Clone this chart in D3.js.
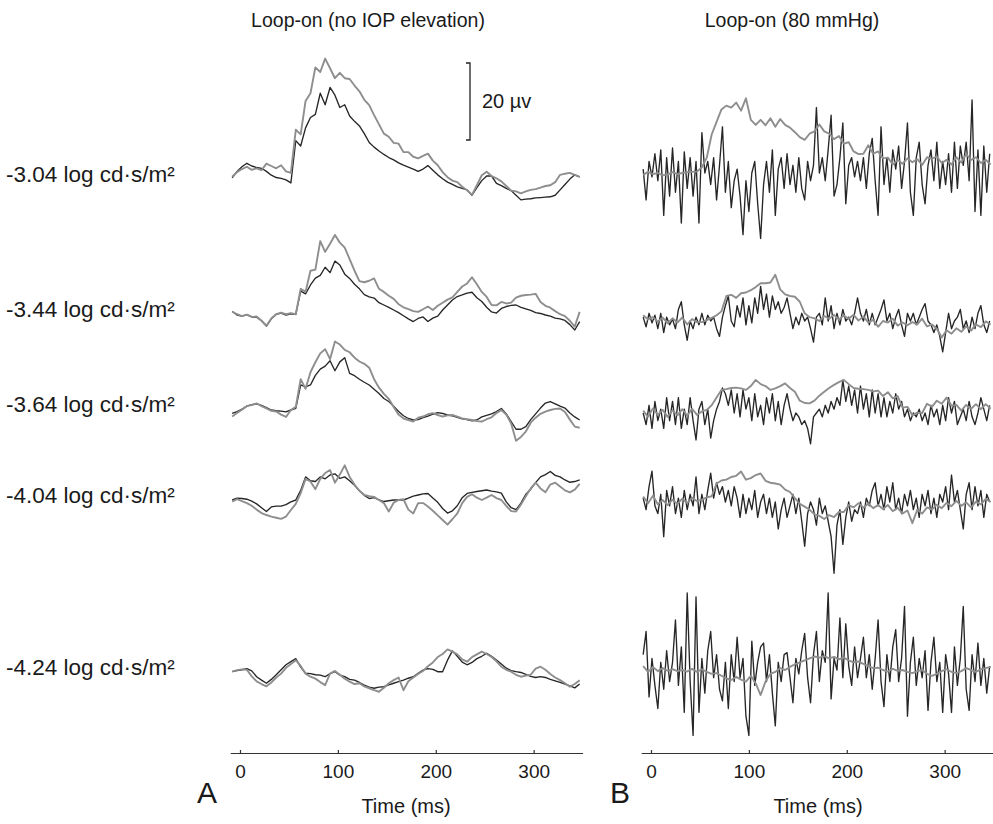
<!DOCTYPE html>
<html><head><meta charset="utf-8">
<script src="https://cdn.jsdelivr.net/npm/d3@7"></script>
<style>
body{margin:0;background:#fff}
svg{display:block}
text{font-family:"Liberation Sans", Arial, Helvetica, sans-serif; fill:#1a1a1a}
</style>
</head><body>
<svg id="chart" width="993" height="824"></svg>
<script>
// ---------------- DATA ----------------
const intensities = ["-3.04", "-3.44", "-3.64", "-4.04", "-4.24"];
const panelTitles = ["Loop-on (no IOP elevation)", "Loop-on (80 mmHg)"];
const panelLetters = ["A", "B"];
const timeTicks = [0, 100, 200, 300];
const scaleBarUv = 20;
const sampleStart = -8;      // ms, first sample
const smoothStep = 5;        // ms between samples (panel A traces, panel B grey traces)
const noisyStep = 3;         // ms between samples (panel B black traces)

// Panel A: no IOP elevation (µV)
const a304Gray = [-0.2,1.0,1.8,2.4,1.6,2.0,1.5,3.2,2.6,2.0,2.8,1.2,
  0.8,12.0,10.8,19.5,21.5,28.2,27.0,30.5,28.0,25.4,26.8,25.4,
  25.2,23.5,22.0,19.8,18.4,15.8,13.4,11.0,10.2,8.6,8.4,6.2,
  6.2,5.0,4.6,5.2,5.8,4.0,2.8,1.0,-0.3,-1.2,-1.6,-2.8,
  -3.7,-4.9,-2.4,0.2,1.1,0.0,-0.6,-1.4,-2.6,-3.8,-4.0,-4.5,
  -4.0,-3.6,-3.4,-3.0,-2.6,-2.4,-1.6,0.3,0.6,0.8,0.3,-0.2];
const a304Black = [-0.5,1.2,2.4,3.3,2.6,2.2,2.0,1.2,0.2,-0.4,-0.6,-1.0,
  -1.8,9.2,7.8,12.5,15.2,16.0,21.5,18.5,23.0,21.0,17.8,18.5,
  15.6,14.2,13.0,11.0,8.7,7.5,6.5,5.6,4.8,4.2,3.4,2.8,
  2.3,1.8,1.2,1.8,2.7,1.5,0.3,-0.7,-1.6,-2.2,-2.8,-3.2,
  -3.6,-5.0,-3.0,-1.2,0.0,0.0,-1.9,-2.5,-3.2,-3.8,-5.0,-6.2,
  -6.0,-5.9,-5.7,-5.6,-5.5,-5.4,-5.0,-3.6,-2.2,-0.8,0.3,-0.2];
const a344Gray = [0.9,0.2,-0.3,0.1,-0.5,-0.4,-1.5,-2.8,-0.9,0.2,0.6,0.2,
  0.5,0.2,6.8,6.0,11.5,11.8,19.2,16.4,18.5,20.8,18.8,17.5,
  14.5,11.5,8.8,8.5,8.9,9.5,6.8,6.0,5.0,4.2,2.8,2.0,
  1.5,1.0,0.8,1.5,2.2,1.3,2.4,3.2,4.0,4.6,6.0,7.4,
  8.2,9.8,8.0,6.0,4.7,2.6,2.5,3.4,3.0,3.2,4.5,5.0,
  5.2,5.3,5.5,3.4,2.4,1.9,1.0,0.2,-0.3,-1.5,-3.0,0.8];
const a344Black = [0.9,0.0,-0.3,0.1,-0.5,-0.6,-1.5,-2.9,-1.0,0.2,0.5,0.0,
  0.3,0.2,6.2,5.5,7.8,9.6,10.3,12.4,11.0,14.0,13.0,10.6,
  9.5,8.0,6.8,5.3,4.7,4.4,3.2,2.6,2.0,1.3,0.6,-0.2,
  -1.0,-1.7,-0.9,-0.5,-1.7,-0.8,-0.3,1.3,2.6,3.9,4.8,5.2,
  5.7,5.9,4.5,3.5,2.0,0.8,0.5,1.7,2.2,2.5,2.6,2.0,
  1.6,1.2,0.6,0.4,0.0,-0.3,-0.8,-1.0,-1.4,-2.5,-3.9,-1.7];
const a364Gray = [-1.7,-0.8,0.1,1.0,1.3,1.7,1.0,0.4,-0.2,-0.4,-1.2,-1.8,
  0.0,0.8,8.0,5.5,9.8,12.4,14.7,15.8,13.2,17.8,17.0,15.6,
  15.0,13.6,12.6,12.0,11.0,8.0,5.8,4.2,2.9,0.8,-1.2,-2.2,
  -2.6,-3.0,-2.0,-1.7,-1.1,-0.8,-1.3,-1.7,-1.4,-1.3,-1.7,-2.2,
  -2.4,-2.6,-2.9,-3.0,-2.4,-1.9,-0.8,0.0,-1.2,-3.5,-8.0,-7.0,
  -5.6,-3.3,-2.0,-1.0,-0.4,0.0,0.3,0.4,-0.5,-2.5,-4.3,-4.6];
const a364Black = [-0.9,-0.4,0.2,1.0,1.4,1.6,1.2,0.6,0.0,-0.2,-0.3,-0.5,
  0.0,0.4,6.5,6.0,6.5,9.0,10.6,11.4,12.8,10.2,12.5,13.6,
  9.5,8.9,8.0,7.2,6.5,5.4,4.3,3.0,2.2,1.0,-0.4,-1.5,
  -2.2,-2.6,-2.5,-2.0,-1.6,-1.1,-0.7,-0.9,-1.3,-1.5,-1.9,-2.3,
  -2.5,-2.8,-2.6,-1.8,-1.4,-1.0,-0.4,0.4,-1.0,-3.0,-5.0,-5.0,
  -4.3,-2.5,-1.0,0.5,1.8,2.2,1.6,1.0,0.5,-0.8,-1.8,-2.6];
const a404Gray = [-0.4,0.2,-0.3,-0.8,-1.5,-2.5,-3.4,-3.9,-4.3,-4.6,-4.9,-4.3,
  -2.6,-1.0,1.8,5.5,4.8,2.8,5.5,7.0,7.8,4.5,6.6,9.0,
  6.0,4.0,2.4,1.3,1.0,0.8,0.0,-0.8,-3.0,-0.7,0.0,0.2,
  -2.5,-3.5,-0.8,-0.8,-1.7,-2.8,-4.0,-5.2,-6.4,-5.0,-3.5,-0.8,
  0.8,1.5,0.6,0.0,0.6,1.3,0.5,0.0,-1.5,-2.9,-3.0,-1.2,
  1.0,3.0,4.5,3.0,2.0,4.0,4.5,3.5,2.5,2.0,2.7,4.2];
const a404Black = [0.0,0.5,0.4,0.2,-0.3,-1.0,-2.0,-3.0,-1.8,-1.6,-1.6,-1.2,
  -0.5,0.0,2.5,6.0,5.0,4.8,6.0,5.5,6.5,6.8,5.6,6.0,
  5.0,3.8,2.4,1.2,0.4,0.6,0.0,-0.4,-0.2,0.0,0.0,0.0,
  0.5,1.0,1.3,1.6,1.7,0.5,-0.6,-2.2,-3.4,-2.8,-1.5,0.6,
  1.7,2.0,2.2,2.4,2.6,2.3,2.1,1.8,-0.5,-2.0,-2.5,-0.8,
  1.5,2.8,4.5,6.0,6.6,7.4,6.4,6.0,5.2,4.6,4.8,5.2];
const a424Gray = [0.0,0.4,0.6,0.5,-1.2,-2.5,-3.2,-3.8,-2.8,-1.5,-0.5,1.0,
  2.0,3.0,1.5,-0.5,-1.3,-1.8,-2.7,-3.5,-0.5,0.2,-0.8,-1.8,
  -2.6,-3.2,-3.0,-3.8,-4.3,-4.8,-5.2,-4.2,-3.0,-2.2,-1.5,-4.8,
  -2.5,-1.5,-0.6,0.2,1.4,2.4,3.8,4.6,5.8,5.2,4.5,3.2,
  2.6,3.8,4.5,5.2,4.6,3.8,2.7,1.3,0.5,0.0,-0.8,-1.3,
  -1.0,-0.8,0.8,1.3,0.5,-0.6,-1.5,-2.2,-3.0,-3.9,-3.2,-2.2];
const a424Black = [0.0,0.3,0.5,0.8,0.2,-1.3,-2.2,-3.0,-2.0,-0.8,0.5,1.8,
  2.6,3.4,1.2,-0.4,-0.5,-0.8,-0.9,-1.3,-0.5,0.0,-0.9,-1.3,
  -2.0,-2.2,-2.8,-3.5,-4.0,-4.3,-4.0,-3.9,-3.4,-3.0,-2.6,-2.2,
  -1.7,-1.3,-0.4,0.4,0.8,0.6,0.0,0.0,3.0,5.4,4.0,2.5,
  1.8,2.4,3.4,4.0,4.8,4.0,3.0,2.0,0.9,0.3,0.0,-0.2,
  -0.7,-1.2,-1.5,-1.3,-1.5,-2.0,-2.4,-2.8,-3.2,-3.7,-4.2,-3.2];

// Panel B: 80 mmHg (µV)
const b304Gray = [-0.5,0.3,-0.3,0.0,-0.6,-0.4,0.2,-0.3,0.0,0.2,0.3,0.4,
  1.5,4.0,10.0,13.3,16.5,17.5,17.0,18.3,16.2,19.4,13.8,12.5,
  13.8,12.4,14.2,12.0,14.0,12.5,11.8,10.6,9.3,8.6,10.2,10.8,
  12.6,10.8,10.2,8.8,9.6,7.6,8.0,5.6,4.9,5.0,7.2,5.0,
  5.6,3.8,4.0,2.2,3.4,2.4,3.8,2.8,3.6,2.1,4.1,3.7,
  4.3,2.6,3.4,2.2,4.1,2.7,4.9,3.4,4.1,2.6,3.4,2.2];
const b304Black = [1,-7,3,-1,5,-2,6,-11,4,-6,
  6.5,-5,3,-13,5.5,-4,4,-6,3,-13,
  10.5,0,3,-3,4,-7,2,12,-5,3,
  -9,-2,1,-6,-16,-2,-10,0,3,-8,
  -17,-3,3,-5,6,-11,1,4,-4,5,
  -3,2,-5,4,-4,-7,3,-2,2,17,
  0,4,-2,6,15,-6,-3,4,13,-8,
  2,4,-1,3,-2,4,-4,5,9,-2,
  -11,12,-3,4,-5,6,1,7,-4,3,
  13,-5,-11,4,8,-3,-8,2,6,-2,
  8,-4,3,-3,5,-5,8,-4,7,2,
  8,-2,19,-10,6,-11,7,-5,5];
const b344Gray = [1.5,0.4,1.0,-0.2,0.9,-0.6,0.7,-0.4,0.9,-0.9,0.5,-0.3,
  -0.3,0.2,0.8,1.5,2.5,6.5,6.8,6.0,7.2,7.4,8.0,8.8,
  9.8,9.8,10.0,12.0,8.2,6.9,6.5,6.3,5.0,2.0,1.0,0.7,
  0.0,1.3,0.6,1.6,0.4,1.4,0.6,1.6,0.1,1.2,-0.4,0.3,
  -1.5,0.0,-0.4,0.6,-1.2,-0.4,-1.1,-0.3,-0.9,0.6,-1.4,-0.9,
  -2.0,-4.3,-2.4,-3.3,-1.9,-2.8,-1.4,-2.5,-0.9,-1.6,-0.1,-0.9];
const b344Black = [1,-1.5,2,-0.5,1.5,-2,2,-3,1,-1,
  0.5,-2,3,5,-1,-5,0,-2,1,-1,
  2,-1,1.5,0,1,-2,-4,1,4,6.5,
  0,-1.5,4,1,6,-1,4,-0.5,6,2,
  9,3,7,1,6.5,3,5,2,3.5,6,
  2,-2,1,-1,2,0,1,-2,-5.5,1,
  2,-1,6,0,4,-2,2,-1,3,0,
  1,-1,2,6,2,0,3,-1,2,-1,
  1,3,5.5,0,2,-2,1,3,-1,-4,
  2,0,2,-1,1,3,4.5,0,-1,-3,
  -1,-4,-8,-3,2,-2,0,1,3,-2,
  0,-3,1,-2,2,4,-1,-3,0];
const b364Gray = [0.6,-1.0,1.2,-0.5,0.8,-1.0,0.7,-0.6,1.0,-0.7,1.1,-0.5,
  0.4,0.8,2.0,4.0,6.0,6.2,6.5,6.6,6.4,6.0,7.0,8.6,
  7.5,7.0,6.0,6.4,7.0,7.7,6.5,5.5,3.2,2.6,2.5,3.2,
  4.5,5.5,6.5,7.3,8.0,8.6,7.5,6.5,6.3,6.2,6.0,5.6,
  5.8,4.4,5.4,3.8,4.4,1.4,1.6,-0.6,0.1,0.0,2.4,1.6,
  3.2,2.4,4.0,1.9,2.1,0.6,2.1,1.1,2.3,1.0,2.3,1.1];
const b364Black = [0,-3,2,-4,3,-2,1,-4,4,-2,
  3,-3,4,-4,1,-3,4,-2,-7,1,
  3,-3,1,-6.5,-2,1,3,6.5,5,2,
  6,0,5,-1,6,1,4,-2,5,-1,
  2,-3,4,0,5,-2,3,-3,2,5,
  1,-2,0,-1,-3,-2,-4,-8,-1,0,
  1,-1,2,0,3,1,4,2,8.5,3,
  7,2,6,0,7,1,5,-1,6,0,
  5,-1,4,-1,3,0,5,1,3,-1,
  1,-2,0,-1,1,-2,0,-3,2,-1,
  1,-3,2,-2,4,0,3,-3,-1,1,
  -2,3,-1,-3,0,4,1,-2,2];
const b404Gray = [1.4,-0.3,1.6,-0.6,0.5,-0.8,0.6,-0.5,0.9,-0.3,1.1,0.2,
  0.6,1.2,1.5,4.8,5.6,5.8,6.5,6.8,7.9,5.8,6.2,7.0,
  7.4,5.5,5.0,4.8,4.5,3.2,2.6,1.0,-0.5,-1.2,-2.0,-3.2,
  -3.6,-4.4,-3.4,-3.9,-2.6,-2.6,-0.8,-1.4,-0.3,-1.5,-0.4,-1.6,
  -0.8,-1.8,-0.8,-2.4,-1.5,-3.0,-2.2,-5.5,-2.0,-3.0,-1.4,-2.0,
  -0.7,-1.6,-0.2,-1.1,0.3,-1.0,-0.1,-1.4,0.1,-0.6,0.8,0.0];
const b404Black = [1,-2,4,8,-1,-3,2,-9,3,-1,
  4,-3,1,-4,3,-2,2,-1,6.5,-3,
  2,-2,3,7.5,1,5,2,4,0,3,
  -1,4,1,-4,2,-3,1,-2,3,-4,
  0,2,-3,1,-4,0,-7,-2,1,-4,
  -1,2,-3,1,-5,-11.5,-3,0,-2,-6,
  1,-3,-1,-5,-9,-18.5,-6,-2,-11,-4,
  0,-5,-2,-3,0,-4,1,-1,3,5,
  -1,2,-2,4,0,5,-2,1,-3,2,
  -1,3,-2,1,-4,2,-1,3,-3,1,
  -4,2,0,4,-2,7,0,3,-2,-7,
  2,5,-2,4,-1,3,-4,2,0];
const b424Gray = [1.0,-0.5,0.8,-0.3,0.5,-0.2,0.2,-0.3,0.0,-0.4,0.3,-0.5,
  0.2,-0.5,-1.0,-0.8,-1.5,-2.2,-2.6,-1.8,-2.5,-3.0,-1.5,-3.5,
  -6.5,-3.0,-1.0,-0.5,0.5,0.0,0.8,1.5,2.0,2.5,3.0,3.5,
  3.2,3.6,3.0,3.4,2.8,3.2,2.5,2.0,2.2,1.6,1.0,0.5,
  0.6,0.0,-0.4,0.3,-0.2,0.0,-0.5,-0.8,-0.3,0.0,-1.0,-1.5,
  -1.0,-0.3,0.2,-0.5,-0.8,-0.3,0.5,0.0,-0.5,0.2,0.5,0.8];
const b424Black = [4,10,-7,3,-4,-10,2,-5,5,-3,
  2,13,-4,6,-11,20,-3,-17,19,-11,
  3,-6,5,10,-2,4,-5,-8,2,-10,
  4,-3,8.5,-2,3,-12,-17,7.5,-4,2,
  6,7,-3,4,-6,-14.5,2,-3,4,4.5,
  -2,-8.5,3,-1,5,9.5,-2,-8.5,4,10,
  -3,5,2,20,-7.5,3,0,13.5,-2,12,
  1,-4,6,-2,3,8.5,-2,4,-5,3,
  13,-3,-9.5,4,-3,6,10.5,-3,3,16.5,
  -12,2,8.5,-4,3,-2,5,-10.5,2,8.5,
  -3,2,-11,4,-1,-11,6,-4,3,16.5,
  -5,-10.5,4,-3,7,-4,3,-6,1];

// ---------------- LAYOUT ----------------
const pxPerUv = 3.85;
const axisY = 753;
const panels = [
  { title: panelTitles[0], letter: panelLetters[0], range: [230.2, 582.6], titleX: 368, letterX: 197, timeX: 406,
    baselines: [176, 315, 410, 500, 671.7],
    black: [a304Black, a344Black, a364Black, a404Black, a424Black],
    gray: [a304Gray, a344Gray, a364Gray, a404Gray, a424Gray], blackStep: smoothStep },
  { title: panelTitles[1], letter: panelLetters[1], range: [641.2, 993.6], titleX: 792, letterX: 610, timeX: 818,
    baselines: [173, 321, 413, 502, 670],
    black: [b304Black, b344Black, b364Black, b404Black, b424Black],
    gray: [b304Gray, b344Gray, b364Gray, b404Gray, b424Gray], blackStep: noisyStep }
];
const labelBaselines = [182, 317, 412, 503, 675];

const svg = d3.select("#chart");

panels.forEach(p => {
  const x = d3.scaleLinear().domain([-10, 350]).range(p.range);
  p.baselines.forEach((b, r) => {
    const y = d3.scaleLinear().domain([-20, 20]).range([b + 20 * pxPerUv, b - 20 * pxPerUv]);
    const lineOf = step => d3.line().x((d, i) => x(sampleStart + i * step)).y(d => y(d));
    svg.append("path").datum(p.black[r]).attr("d", lineOf(p.blackStep))
      .attr("fill", "none").attr("stroke", "#262626").attr("stroke-width", 1.35)
      .attr("stroke-linejoin", "round");
    svg.append("path").datum(p.gray[r]).attr("d", lineOf(smoothStep))
      .attr("fill", "none").attr("stroke", "#8e8e8e").attr("stroke-width", 1.9)
      .attr("stroke-linejoin", "round");
  });
  const ax = svg.append("g").attr("transform", `translate(0,${axisY})`)
    .call(d3.axisBottom(x).tickValues(timeTicks).tickSize(-3).tickSizeOuter(0).tickPadding(12));
  ax.attr("font-family", null).attr("font-size", null);
  ax.select(".domain").attr("stroke", "#333").attr("stroke-width", 1.2);
  ax.selectAll(".tick line").attr("stroke", "#333").attr("stroke-width", 1.2);
  ax.selectAll(".tick text").style("font-size", "19px").attr("fill", "#1a1a1a");

  svg.append("text").attr("x", p.titleX).attr("y", 27).attr("text-anchor", "middle")
    .style("font-size", "19.5px").text(p.title);
  svg.append("text").attr("x", p.letterX).attr("y", 803)
    .style("font-size", "30px").text(p.letter);
  svg.append("text").attr("x", p.timeX).attr("y", 813).attr("text-anchor", "middle")
    .style("font-size", "20px").text("Time (ms)");
});

intensities.forEach((v, r) => {
  svg.append("text").attr("x", 6).attr("y", labelBaselines[r])
    .style("font-size", "22.5px").text(`${v} log cd·s/m²`);
});

// scale bar (20 µV)
const yBar = d3.scaleLinear().domain([0, scaleBarUv]).range([140, 140 - scaleBarUv * pxPerUv]);
const barX = 470;
svg.append("path")
  .attr("d", `M${barX - 4},${yBar(scaleBarUv)}H${barX}V${yBar(0)}H${barX - 4}`)
  .attr("fill", "none").attr("stroke", "#222").attr("stroke-width", 1.3);
svg.append("text").attr("x", 482).attr("y", 108).style("font-size", "20px").text(`${scaleBarUv} µv`);
</script>
</body></html>
